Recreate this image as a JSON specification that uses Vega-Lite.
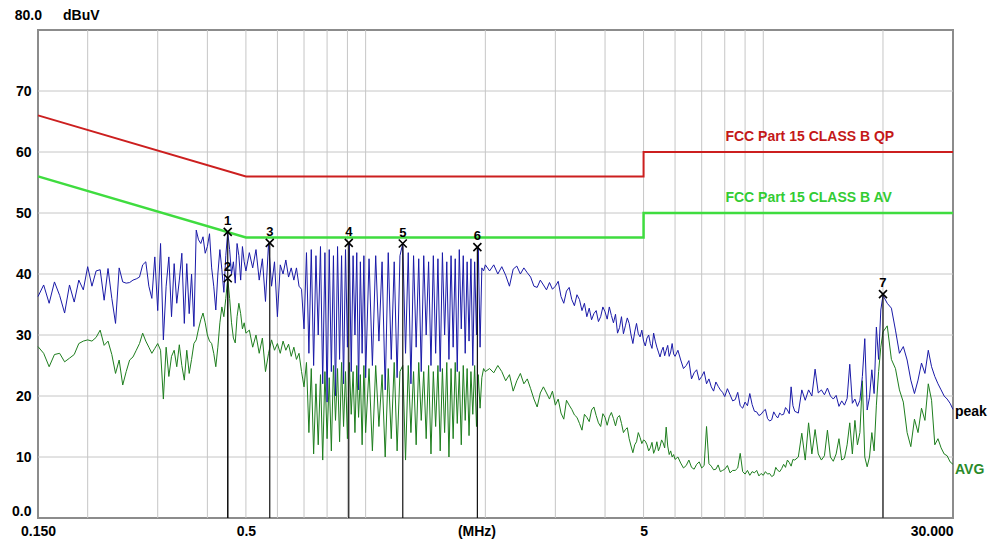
{
  "$schema": "https://vega.github.io/schema/vega-lite/v6.json",
  "width": 915,
  "height": 488,
  "autosize": {"type": "none"},
  "padding": {"left": 38, "top": 30, "right": 41, "bottom": 27},
  "background": "white",
  "config": {"view": {"stroke": "#8c8c8c", "strokeWidth": 2}, "font": "Liberation Sans"},
  "datasets": {
    "xgrid": [{"f":0.2},{"f":0.3},{"f":0.4},{"f":0.5},{"f":0.6},{"f":0.7},{"f":0.8},{"f":0.9},{"f":1},{"f":2},{"f":3},{"f":4},{"f":5},{"f":6},{"f":7},{"f":8},{"f":9},{"f":10},{"f":20}],
    "ygrid": [{"v":10},{"v":20},{"v":30},{"v":40},{"v":50},{"v":60},{"v":70}],
    "lim": [
      {"s":"QP","i":0,"f":0.15,"v":66},{"s":"QP","i":1,"f":0.5,"v":56},{"s":"QP","i":2,"f":5,"v":56},{"s":"QP","i":3,"f":5,"v":60},{"s":"QP","i":4,"f":30,"v":60},
      {"s":"AV","i":0,"f":0.15,"v":56},{"s":"AV","i":1,"f":0.5,"v":46},{"s":"AV","i":2,"f":5,"v":46},{"s":"AV","i":3,"f":5,"v":50},{"s":"AV","i":4,"f":30,"v":50}
    ],
    "mk": [
      {"n":"1","f":0.45,"v":46.9},{"n":"2","f":0.45,"v":39.3},{"n":"3","f":0.574,"v":45.1},{"n":"4","f":0.907,"v":45.1},{"n":"5","f":1.24,"v":45.0},{"n":"6","f":1.91,"v":44.4},{"n":"7","f":20.0,"v":36.7}
    ],
    "tr": [
      {"f":0.15,"p":36.3,"a":28.1},{"f":0.155,"p":38.2,"a":27},{"f":0.16,"p":35.2,"a":24.8},{"f":0.165,"p":38.7,"a":26.8},{"f":0.17,"p":36.5,"a":27},
      {"f":0.175,"p":33.6,"a":25.6},{"f":0.18,"p":38.2,"a":26.2},{"f":0.185,"p":35.4,"a":26.8},{"f":0.19,"p":39,"a":28.6},{"f":0.195,"p":37.4,"a":29},
      {"f":0.2,"p":41.2,"a":29.2},{"f":0.205,"p":38,"a":29},{"f":0.21,"p":40.5,"a":29.6},{"f":0.215,"p":40.7,"a":30.8},{"f":0.22,"p":35.7,"a":28.3},
      {"f":0.225,"p":40.9,"a":29},{"f":0.23,"p":36,"a":26.8},{"f":0.235,"p":31.9,"a":23.7},{"f":0.24,"p":41,"a":25.9},{"f":0.245,"p":38.7,"a":21.8},
      {"f":0.25,"p":38.5,"a":24},{"f":0.255,"p":38.6,"a":25.9},{"f":0.26,"p":39,"a":26.4},{"f":0.265,"p":39.2,"a":27.5},{"f":0.27,"p":39.5,"a":28.6},
      {"f":0.275,"p":41.5,"a":30.3},{"f":0.28,"p":42,"a":29},{"f":0.285,"p":38,"a":28},{"f":0.29,"p":36,"a":27},{"f":0.295,"p":42.8,"a":27.8},
      {"f":0.3,"p":34,"a":28.6},{"f":0.305,"p":45,"a":27.5},{"f":0.31,"p":29.2,"a":19.5},{"f":0.315,"p":38,"a":28},{"f":0.32,"p":42.8,"a":23.2},
      {"f":0.325,"p":33,"a":26.5},{"f":0.33,"p":41.7,"a":27.5},{"f":0.335,"p":35.2,"a":24.8},{"f":0.34,"p":39,"a":28.4},{"f":0.345,"p":43.4,"a":25},
      {"f":0.35,"p":31.9,"a":22.6},{"f":0.355,"p":41.7,"a":27.5},{"f":0.36,"p":33.5,"a":23.7},{"f":0.365,"p":40,"a":26},{"f":0.37,"p":31.4,"a":28.6},
      {"f":0.375,"p":47.2,"a":29.2},{"f":0.38,"p":45.6,"a":31},{"f":0.385,"p":45,"a":32.5},{"f":0.39,"p":46.1,"a":33.6},{"f":0.395,"p":43.4,"a":32},
      {"f":0.4,"p":44.5,"a":30},{"f":0.405,"p":46.6,"a":29},{"f":0.41,"p":41,"a":28.6},{"f":0.415,"p":38,"a":27},{"f":0.42,"p":34.1,"a":24.8},
      {"f":0.425,"p":40,"a":28},{"f":0.43,"p":44,"a":32},{"f":0.435,"p":40.7,"a":34.6},{"f":0.44,"p":37,"a":33},{"f":0.445,"p":43,"a":36},
      {"f":0.45,"p":46.9,"a":39.3},{"f":0.455,"p":44,"a":36},{"f":0.46,"p":40,"a":32},{"f":0.465,"p":42,"a":29.5},{"f":0.47,"p":38.5,"a":28.7},
      {"f":0.475,"p":45,"a":33},{"f":0.48,"p":43,"a":35.2},{"f":0.485,"p":39,"a":33.5},{"f":0.49,"p":44.5,"a":31},{"f":0.495,"p":42,"a":32},
      {"f":0.5,"p":40.5,"a":30.3},{"f":0.51,"p":43.5,"a":30.8},{"f":0.52,"p":41,"a":28},{"f":0.53,"p":44,"a":30},{"f":0.54,"p":39,"a":27},
      {"f":0.55,"p":42.5,"a":29.5},{"f":0.56,"p":35.5,"a":24},{"f":0.57,"p":45.1,"a":27},{"f":0.58,"p":38,"a":29.2},{"f":0.59,"p":42,"a":27.5},
      {"f":0.6,"p":33,"a":28.6},{"f":0.61,"p":41.5,"a":27},{"f":0.62,"p":40,"a":29},{"f":0.63,"p":42.3,"a":27.5},{"f":0.64,"p":39.5,"a":28.5},
      {"f":0.65,"p":41,"a":26.5},{"f":0.66,"p":39,"a":28},{"f":0.67,"p":41,"a":26},{"f":0.68,"p":38,"a":27},{"f":0.69,"p":37.5,"a":24},
      {"f":0.7,"p":31,"a":21.5},{"f":0.71,"p":43.5,"a":25.5},{"f":0.72,"p":27,"a":14},{"f":0.73,"p":44,"a":24.5},{"f":0.74,"p":25,"a":10.5},
      {"f":0.75,"p":43,"a":22},{"f":0.76,"p":30,"a":12},{"f":0.77,"p":44.5,"a":23.5},{"f":0.78,"p":22,"a":9.5},{"f":0.79,"p":43.5,"a":24},
      {"f":0.8,"p":19,"a":13},{"f":0.81,"p":44,"a":23},{"f":0.82,"p":24,"a":11},{"f":0.83,"p":43,"a":25},{"f":0.84,"p":20,"a":16},
      {"f":0.85,"p":44.5,"a":24.5},{"f":0.86,"p":26,"a":12.5},{"f":0.87,"p":43,"a":25.5},{"f":0.88,"p":22,"a":15},{"f":0.89,"p":44,"a":24},
      {"f":0.9,"p":28,"a":13},{"f":0.91,"p":45.1,"a":25.5},{"f":0.92,"p":24,"a":17},{"f":0.93,"p":43,"a":24},{"f":0.94,"p":30,"a":14},
      {"f":0.95,"p":43.5,"a":25},{"f":0.96,"p":21,"a":16.5},{"f":0.97,"p":42,"a":23.5},{"f":0.98,"p":27,"a":12},{"f":0.99,"p":43,"a":25},
      {"f":1.0,"p":23,"a":14},{"f":1.02,"p":42.5,"a":24.5},{"f":1.04,"p":25,"a":11},{"f":1.06,"p":43,"a":25},{"f":1.08,"p":29,"a":15},
      {"f":1.1,"p":42,"a":23.5},{"f":1.12,"p":21,"a":10},{"f":1.14,"p":43.5,"a":24.5},{"f":1.16,"p":26,"a":13},{"f":1.18,"p":42,"a":25.5},
      {"f":1.2,"p":23,"a":11},{"f":1.22,"p":43,"a":24},{"f":1.24,"p":45,"a":25},{"f":1.26,"p":27,"a":9.5},{"f":1.28,"p":43.5,"a":25},
      {"f":1.3,"p":22,"a":14},{"f":1.32,"p":43,"a":24},{"f":1.34,"p":28,"a":12},{"f":1.36,"p":42.5,"a":25.5},{"f":1.38,"p":24,"a":16},
      {"f":1.4,"p":43,"a":24},{"f":1.42,"p":30,"a":13},{"f":1.44,"p":42,"a":25},{"f":1.46,"p":25,"a":10.5},{"f":1.48,"p":43,"a":24},
      {"f":1.5,"p":27,"a":15},{"f":1.52,"p":42.5,"a":25},{"f":1.54,"p":24,"a":11},{"f":1.56,"p":43.5,"a":24.5},{"f":1.58,"p":30,"a":14},
      {"f":1.6,"p":42,"a":25.5},{"f":1.62,"p":26,"a":10},{"f":1.64,"p":43,"a":24.5},{"f":1.66,"p":28,"a":13},{"f":1.68,"p":42.5,"a":25.5},
      {"f":1.7,"p":24,"a":15.5},{"f":1.72,"p":44,"a":24},{"f":1.74,"p":31,"a":12},{"f":1.76,"p":43,"a":25},{"f":1.78,"p":27,"a":16},
      {"f":1.8,"p":42,"a":24.5},{"f":1.82,"p":29,"a":13.5},{"f":1.84,"p":42.5,"a":24},{"f":1.86,"p":25,"a":17},{"f":1.88,"p":42,"a":25},
      {"f":1.9,"p":30,"a":15},{"f":1.92,"p":44.4,"a":23.5},{"f":1.94,"p":28,"a":18},{"f":1.96,"p":41,"a":23},{"f":1.98,"p":40.5,"a":24.5},
      {"f":2.0,"p":41.5,"a":24},{"f":2.05,"p":40.5,"a":24.5},{"f":2.1,"p":41.5,"a":23.8},{"f":2.15,"p":40,"a":25},{"f":2.2,"p":41.2,"a":24},
      {"f":2.25,"p":39.8,"a":22.5},{"f":2.3,"p":38,"a":23.5},{"f":2.35,"p":40.8,"a":20.8},{"f":2.4,"p":41.3,"a":22.5},{"f":2.45,"p":40,"a":23.7},
      {"f":2.5,"p":41,"a":22},{"f":2.55,"p":40.2,"a":22.8},{"f":2.6,"p":39.5,"a":21.2},{"f":2.65,"p":38,"a":19.5},{"f":2.7,"p":37.8,"a":18.2},
      {"f":2.75,"p":39,"a":20.5},{"f":2.8,"p":38.2,"a":21.5},{"f":2.85,"p":37.4,"a":20.5},{"f":2.9,"p":38.6,"a":19.5},{"f":2.95,"p":37.5,"a":20.8},
      {"f":3.0,"p":38,"a":18.5},{"f":3.1,"p":36.3,"a":17.2},{"f":3.2,"p":37.2,"a":19.3},{"f":3.3,"p":35.8,"a":17.8},{"f":3.4,"p":36.6,"a":16.5},
      {"f":3.5,"p":34,"a":14.4},{"f":3.6,"p":33,"a":16.5},{"f":3.7,"p":32.5,"a":17.7},{"f":3.8,"p":34,"a":16.8},{"f":3.9,"p":33,"a":15},
      {"f":4.0,"p":33.8,"a":16.5},{"f":4.1,"p":34.6,"a":16.6},{"f":4.2,"p":32,"a":16.3},{"f":4.3,"p":30.3,"a":16.5},{"f":4.4,"p":33,"a":15.5},
      {"f":4.5,"p":31.5,"a":14.5},{"f":4.6,"p":31.9,"a":13},{"f":4.7,"p":28.6,"a":10.7},{"f":4.8,"p":31.9,"a":12.5},{"f":4.9,"p":29.7,"a":13.2},
      {"f":5.0,"p":29,"a":12.8},{"f":5.1,"p":29.5,"a":12},{"f":5.2,"p":28.6,"a":11.5},{"f":5.3,"p":30.3,"a":10.6},{"f":5.4,"p":28,"a":12.5},
      {"f":5.5,"p":26.4,"a":11.7},{"f":5.6,"p":28,"a":12.3},{"f":5.7,"p":27.5,"a":14.9},{"f":5.8,"p":26.5,"a":10.4},{"f":5.9,"p":28.6,"a":10},
      {"f":6.0,"p":26.5,"a":9.6},{"f":6.2,"p":25.9,"a":9},{"f":6.4,"p":25,"a":8.6},{"f":6.6,"p":22.8,"a":8.3},{"f":6.8,"p":24.3,"a":8.8},
      {"f":7.0,"p":23.2,"a":8.2},{"f":7.2,"p":22,"a":15},{"f":7.4,"p":21.5,"a":8.5},{"f":7.6,"p":22.3,"a":8},{"f":7.8,"p":21,"a":7.6},
      {"f":8.0,"p":19.9,"a":8},{"f":8.25,"p":20.2,"a":7.4},{"f":8.5,"p":19.4,"a":7.8},{"f":8.75,"p":18.4,"a":10.6},{"f":9.0,"p":19,"a":7.2},
      {"f":9.25,"p":20.4,"a":7},{"f":9.5,"p":17.5,"a":7.4},{"f":9.75,"p":16.8,"a":6.9},{"f":10.0,"p":17.5,"a":7},{"f":10.25,"p":16.3,"a":7.2},
      {"f":10.5,"p":16.1,"a":6.8},{"f":10.75,"p":16.8,"a":8.3},{"f":11.0,"p":17.2,"a":7.6},{"f":11.25,"p":17,"a":8.8},{"f":11.5,"p":17.7,"a":9.5},
      {"f":11.75,"p":21.5,"a":8.5},{"f":12.0,"p":17.5,"a":9.5},{"f":12.25,"p":17.2,"a":10},{"f":12.5,"p":21,"a":13.9},{"f":12.75,"p":19.3,"a":9.5},
      {"f":13.0,"p":21,"a":15.6},{"f":13.25,"p":20,"a":10.5},{"f":13.5,"p":24.4,"a":14.5},{"f":13.75,"p":20.5,"a":10.5},{"f":14.0,"p":21,"a":9.5},
      {"f":14.25,"p":20.2,"a":10.2},{"f":14.5,"p":21.3,"a":14.4},{"f":14.75,"p":20,"a":10},{"f":15.0,"p":19.5,"a":9.3},{"f":15.25,"p":20.1,"a":10.5},
      {"f":15.5,"p":18.3,"a":13},{"f":15.75,"p":19.2,"a":9.5},{"f":16.0,"p":18.5,"a":9.8},{"f":16.25,"p":19.6,"a":12},{"f":16.5,"p":25.2,"a":15.6},
      {"f":16.75,"p":18.8,"a":10.5},{"f":17.0,"p":19.5,"a":16},{"f":17.25,"p":18.3,"a":12},{"f":17.5,"p":19.3,"a":14},{"f":17.75,"p":23.2,"a":22.5},
      {"f":18.0,"p":29.4,"a":10},{"f":18.25,"p":17.7,"a":8.4},{"f":18.5,"p":19.8,"a":10},{"f":18.75,"p":24.3,"a":14},{"f":19.0,"p":20.4,"a":11},
      {"f":19.25,"p":31.3,"a":18.5},{"f":19.5,"p":26,"a":24},{"f":19.75,"p":34.1,"a":28},{"f":20.0,"p":36.5,"a":30.5},{"f":20.5,"p":35.2,"a":31.5},
      {"f":21.0,"p":34.4,"a":26},{"f":21.5,"p":30.8,"a":24.5},{"f":22.0,"p":27,"a":21},{"f":22.5,"p":28.1,"a":19},{"f":23.0,"p":25.9,"a":14},
      {"f":23.5,"p":22.6,"a":11.7},{"f":24.0,"p":20.4,"a":16.2},{"f":24.5,"p":22.6,"a":14},{"f":25.0,"p":25.4,"a":18},{"f":25.5,"p":23.7,"a":16},
      {"f":26.0,"p":27.5,"a":22},{"f":26.5,"p":24.8,"a":19.3},{"f":27.0,"p":23.2,"a":12},{"f":27.5,"p":22,"a":13},{"f":28.0,"p":21,"a":11.5},
      {"f":28.5,"p":20,"a":10.5},{"f":29.0,"p":19.5,"a":10.2},{"f":29.5,"p":18.8,"a":9.2},{"f":30.0,"p":17.8,"a":8.8},
      {"f":3.05,"p":38.8,"a":19.5},{"f":3.15,"p":35.2,"a":16.2},{"f":3.25,"p":37.8,"a":18.5},{"f":3.35,"p":34.8,"a":16.9},{"f":3.45,"p":35.8,"a":15.5},
      {"f":3.55,"p":35.2,"a":17},{"f":3.65,"p":34.4,"a":15.8},{"f":3.75,"p":33.5,"a":18.2},{"f":3.85,"p":32.2,"a":15.6},{"f":3.95,"p":34.6,"a":17.1},
      {"f":4.05,"p":32.6,"a":15.2},{"f":4.15,"p":33.2,"a":17.3},{"f":4.25,"p":33.4,"a":15.1},{"f":4.35,"p":31.2,"a":16.8},{"f":4.45,"p":30.2,"a":14},
      {"f":4.55,"p":32.8,"a":14.8},{"f":4.65,"p":30,"a":11.8},{"f":4.75,"p":30.5,"a":12},{"f":4.85,"p":30.2,"a":14},{"f":4.95,"p":30.8,"a":12.2},
      {"f":5.05,"p":28.2,"a":12.6},{"f":5.15,"p":30,"a":11},{"f":5.25,"p":27.8,"a":12.4},{"f":5.35,"p":29,"a":11.3},{"f":5.45,"p":27.2,"a":11},
      {"f":5.55,"p":27.4,"a":12.8},{"f":5.65,"p":26.6,"a":11.5},{"f":5.75,"p":28.3,"a":11.8},{"f":5.85,"p":27.2,"a":11},{"f":5.95,"p":26.9,"a":10.4},
      {"f":6.1,"p":27.5,"a":10},{"f":6.3,"p":24.5,"a":8.2},{"f":6.5,"p":25.8,"a":9.5},{"f":6.7,"p":23.8,"a":8},{"f":6.9,"p":22.6,"a":9.2},
      {"f":7.1,"p":24,"a":8.6},{"f":7.3,"p":22.8,"a":8.9},{"f":7.5,"p":20.8,"a":7.9},{"f":7.7,"p":21.6,"a":8.7},{"f":7.9,"p":20.6,"a":7.8},
      {"f":8.125,"p":21.2,"a":8.6},{"f":8.375,"p":19.2,"a":7.8},{"f":8.625,"p":20.6,"a":8.2},{"f":8.875,"p":18,"a":7.6},{"f":9.125,"p":18.4,"a":7.8},
      {"f":9.375,"p":18.6,"a":7.6},{"f":9.625,"p":17.4,"a":7.8},{"f":9.875,"p":17,"a":7.3},{"f":10.125,"p":17.8,"a":7.6},{"f":10.375,"p":15.9,"a":7.3},
      {"f":10.625,"p":17.4,"a":7},{"f":10.875,"p":16.4,"a":7.8},{"f":11.125,"p":16.9,"a":8.1},{"f":11.375,"p":18.1,"a":8.3},{"f":11.625,"p":17.1,"a":9.1},
      {"f":11.875,"p":18.4,"a":9.6}
    ]
  },
  "layer": [
    {
      "data": {"name": "xgrid"},
      "mark": {"type": "rule", "color": "#c6c6c6", "strokeWidth": 1},
      "encoding": {
        "x": {
          "field": "f", "type": "quantitative",
          "scale": {"type": "log", "domain": [0.15, 30], "nice": false},
          "axis": {
            "values": [0.15, 0.5, 1.9, 5, 30],
            "labelExpr": "datum.value == 0.15 ? '0.150' : datum.value == 0.5 ? '0.5' : datum.value == 5 ? '5' : datum.value == 30 ? '30.000' : '(MHz)'",
            "title": null, "ticks": false, "domain": false, "grid": false,
            "labelFlush": false, "labelOverlap": false,
            "labelFont": "Liberation Sans", "labelFontWeight": "bold", "labelFontSize": 14, "labelColor": "#000000",
            "labelPadding": 6, "labelBaseline": "top",
            "labelAlign": {"condition": {"test": "datum.value == 30", "value": "right"}, "value": "center"}
          }
        }
      }
    },
    {
      "data": {"name": "ygrid"},
      "mark": {"type": "rule", "color": "#c6c6c6", "strokeWidth": 1},
      "encoding": {
        "y": {
          "field": "v", "type": "quantitative",
          "scale": {"domain": [0, 80], "nice": false},
          "axis": {
            "values": [0, 10, 20, 30, 40, 50, 60, 70],
            "labelExpr": "datum.value == 0 ? '0.0' : datum.label",
            "title": null, "ticks": false, "domain": false, "grid": false,
            "labelFont": "Liberation Sans", "labelFontWeight": "bold", "labelFontSize": 14, "labelColor": "#000000",
            "labelPadding": 7,
            "labelBaseline": {"condition": {"test": "datum.value == 0", "value": "bottom"}, "value": "middle"}
          }
        }
      }
    },
    {
      "data": {"name": "tr"},
      "mark": {"type": "line", "color": "#1e7e1e", "strokeWidth": 1},
      "encoding": {
        "x": {"field": "f", "type": "quantitative"},
        "y": {"field": "a", "type": "quantitative"}
      }
    },
    {
      "data": {"name": "tr"},
      "mark": {"type": "line", "color": "#1a1aa8", "strokeWidth": 1},
      "encoding": {
        "x": {"field": "f", "type": "quantitative"},
        "y": {"field": "p", "type": "quantitative"}
      }
    },
    {
      "data": {"name": "lim"},
      "transform": [{"filter": "datum.s == 'QP'"}],
      "mark": {"type": "line", "color": "#cc1f1f", "strokeWidth": 2},
      "encoding": {
        "x": {"field": "f", "type": "quantitative"},
        "y": {"field": "v", "type": "quantitative"},
        "order": {"field": "i", "type": "quantitative"}
      }
    },
    {
      "data": {"name": "lim"},
      "transform": [{"filter": "datum.s == 'AV'"}],
      "mark": {"type": "line", "color": "#3fdc3f", "strokeWidth": 2.5},
      "encoding": {
        "x": {"field": "f", "type": "quantitative"},
        "y": {"field": "v", "type": "quantitative"},
        "order": {"field": "i", "type": "quantitative"}
      }
    },
    {
      "data": {"name": "mk"},
      "mark": {"type": "rule", "color": "#111111", "strokeWidth": 1.2},
      "encoding": {
        "x": {"field": "f", "type": "quantitative"},
        "y": {"field": "v", "type": "quantitative"},
        "y2": {"datum": 0}
      }
    },
    {
      "data": {"name": "mk"},
      "mark": {"type": "point", "shape": "M-1,-1L1,1M-1,1L1,-1", "filled": false, "stroke": "#000000", "strokeWidth": 1.6, "size": 64, "opacity": 1},
      "encoding": {
        "x": {"field": "f", "type": "quantitative"},
        "y": {"field": "v", "type": "quantitative"}
      }
    },
    {
      "data": {"name": "mk"},
      "mark": {"type": "text", "font": "Liberation Sans", "fontWeight": "bold", "fontSize": 13, "color": "#000000", "baseline": "alphabetic", "align": "center", "dy": -7},
      "encoding": {
        "x": {"field": "f", "type": "quantitative"},
        "y": {"field": "v", "type": "quantitative"},
        "text": {"field": "n"}
      }
    },
    {
      "data": {"values": [{"f": 8.03, "v": 62.5, "t": "FCC Part 15 CLASS B QP"}]},
      "mark": {"type": "text", "font": "Liberation Sans", "fontWeight": "bold", "fontSize": 14, "color": "#c41818", "align": "left", "baseline": "middle"},
      "encoding": {
        "x": {"field": "f", "type": "quantitative"},
        "y": {"field": "v", "type": "quantitative"},
        "text": {"field": "t"}
      }
    },
    {
      "data": {"values": [{"f": 8.03, "v": 52.5, "t": "FCC Part 15 CLASS B AV"}]},
      "mark": {"type": "text", "font": "Liberation Sans", "fontWeight": "bold", "fontSize": 14, "color": "#33cc33", "align": "left", "baseline": "middle"},
      "encoding": {
        "x": {"field": "f", "type": "quantitative"},
        "y": {"field": "v", "type": "quantitative"},
        "text": {"field": "t"}
      }
    },
    {
      "data": {"values": [{"f": 30, "v": 17.4, "t": "peak"}]},
      "mark": {"type": "text", "font": "Liberation Sans", "fontWeight": "bold", "fontSize": 14, "color": "#000000", "align": "left", "baseline": "middle", "dx": 2},
      "encoding": {
        "x": {"field": "f", "type": "quantitative"},
        "y": {"field": "v", "type": "quantitative"},
        "text": {"field": "t"}
      }
    },
    {
      "data": {"values": [{"f": 30, "v": 7.9, "t": "AVG"}]},
      "mark": {"type": "text", "font": "Liberation Sans", "fontWeight": "bold", "fontSize": 14, "color": "#2a8a2a", "align": "left", "baseline": "middle", "dx": 2},
      "encoding": {
        "x": {"field": "f", "type": "quantitative"},
        "y": {"field": "v", "type": "quantitative"},
        "text": {"field": "t"}
      }
    },
    {
      "data": {"values": [{"f": 0.15, "v": 80, "t": "80.0"}]},
      "mark": {"type": "text", "font": "Liberation Sans", "fontWeight": "bold", "fontSize": 14, "color": "#000000", "align": "right", "baseline": "middle", "dx": 4, "dy": -14},
      "encoding": {
        "x": {"field": "f", "type": "quantitative"},
        "y": {"field": "v", "type": "quantitative"},
        "text": {"field": "t"}
      }
    },
    {
      "data": {"values": [{"f": 0.15, "v": 80, "t": "dBuV"}]},
      "mark": {"type": "text", "font": "Liberation Sans", "fontWeight": "bold", "fontSize": 14, "color": "#000000", "align": "left", "baseline": "middle", "dx": 25, "dy": -14},
      "encoding": {
        "x": {"field": "f", "type": "quantitative"},
        "y": {"field": "v", "type": "quantitative"},
        "text": {"field": "t"}
      }
    }
  ]
}
